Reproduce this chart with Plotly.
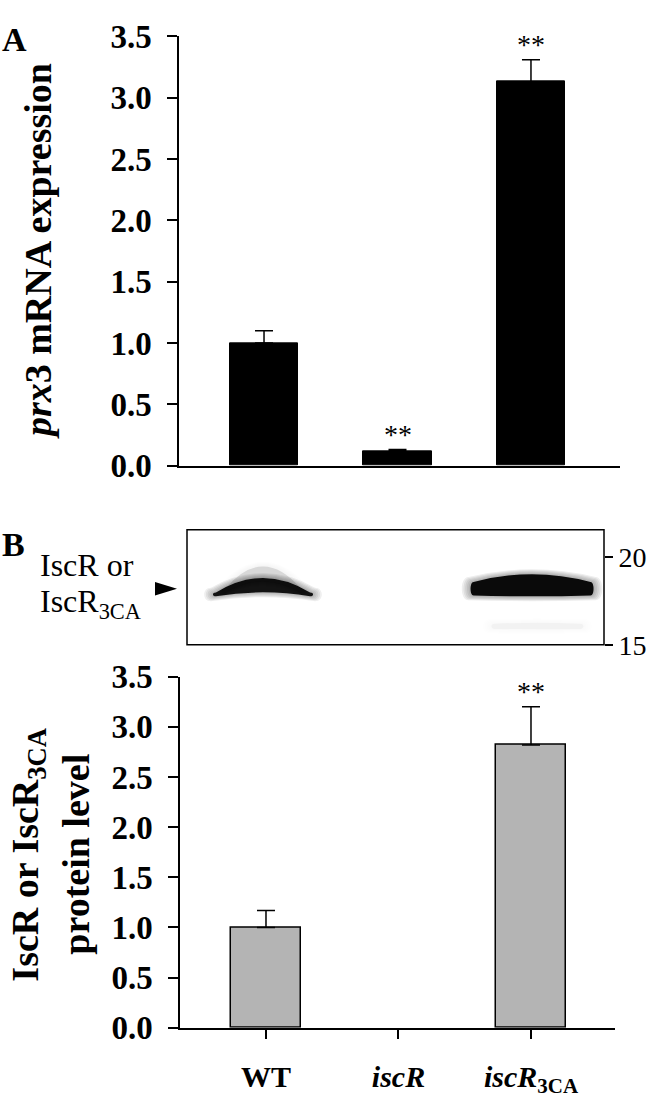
import plotly.graph_objects as go

# ---------------- data ----------------
categories = ["WT", "iscR", "iscR3CA"]
tick_text = ["WT", "<i>iscR</i>", "<i>iscR</i><sub>3CA</sub>"]
mrna_values = [1.00, 0.12, 3.13]
mrna_errors = [0.10, 0.012, 0.18]
mrna_sig = ["", "**", "**"]
protein_values = [1.00, 0.0, 2.82]
protein_errors = [0.17, 0.0, 0.38]
protein_sig = ["", "", "**"]
y_ticks = [0, 0.5, 1.0, 1.5, 2.0, 2.5, 3.0, 3.5]
blot_ticks = [15, 20]
# western blot bands (kDa scale): lane, half width, top edge end/mid, bottom edge end/mid, darkness
band_lane = [0, 0, 2, 2.04]
band_halfwidth = [0.35, 0.28, 0.435, 0.32]
band_top_end = [17.97, 18.20, 18.57, 16.20]
band_top_mid = [18.80, 19.45, 19.01, 16.25]
band_bot_end = [17.75, 17.95, 17.80, 15.90]
band_bot_mid = [17.98, 18.60, 17.75, 15.88]
band_alpha = [0.95, 0.12, 1.0, 0.03]

W, H = 650, 1100
def px(x):
    return x / W
def py(y):
    return 1 - y / H

FONT = "Liberation Serif"
xs = list(range(len(categories)))

fig = go.Figure()

# Panel A bars
fig.add_trace(go.Bar(
    x=xs, y=mrna_values, width=0.51, marker=dict(color="black", line=dict(color="black", width=1)),
    error_y=dict(type="data", symmetric=False, array=mrna_errors, arrayminus=[0]*3,
                 color="black", thickness=1.5, width=9),
    xaxis="x", yaxis="y", showlegend=False))

# Panel B bars (nothing drawn where no protein was detected)
shown = [v > 0 for v in protein_values]
fig.add_trace(go.Bar(
    x=[x for x, s in zip(xs, shown) if s],
    y=[v for v, s in zip(protein_values, shown) if s], width=0.53,
    marker=dict(color="#b4b4b4", line=dict(color="black", width=1.5)),
    error_y=dict(type="data", symmetric=False,
                 array=[e for e, s in zip(protein_errors, shown) if s],
                 arrayminus=[0 for s in shown if s],
                 color="black", thickness=1.5, width=9),
    xaxis="x2", yaxis="y2", showlegend=False))

# invisible trace on blot axes so they render
fig.add_trace(go.Scatter(x=[band_lane[0]], y=[band_top_end[0]], mode="markers",
                         marker=dict(opacity=0), xaxis="x3", yaxis="y3",
                         showlegend=False, hoverinfo="skip"))

axis_common = dict(showline=True, linecolor="black", linewidth=1.5, showgrid=False, zeroline=False)

fig.update_layout(
    width=W, height=H, margin=dict(l=0, r=0, t=0, b=0),
    paper_bgcolor="white", plot_bgcolor="white", bargap=0,
    xaxis=dict(domain=[px(179), px(620)], range=[-0.637, 2.667], anchor="y",
               tickvals=xs, showticklabels=False, ticks="", **axis_common),
    yaxis=dict(domain=[py(464), py(20)], range=[0, 3.5], anchor="x",
               tickvals=y_ticks, tickformat=".1f", ticks="outside", ticklen=10, tickwidth=1.5,
               tickcolor="black", ticklabelstandoff=9,
               tickfont=dict(family=FONT, size=33, color="black", weight="bold"), **axis_common),
    xaxis2=dict(domain=[px(180), px(615)], range=[-0.649, 2.634], anchor="y2",
                tickvals=xs, ticktext=tick_text, ticks="outside", ticklen=9, tickwidth=1.5,
                tickcolor="black", ticklabelstandoff=12,
                tickfont=dict(family=FONT, size=30, color="black", weight="bold"), **axis_common),
    yaxis2=dict(domain=[py(1045), py(682)], range=[0, 3.5], anchor="x2",
                tickvals=y_ticks, tickformat=".1f", ticks="outside", ticklen=10, tickwidth=1.5,
                tickcolor="black", ticklabelstandoff=9,
                tickfont=dict(family=FONT, size=33, color="black", weight="bold"), **axis_common),
    xaxis3=dict(domain=[px(187), px(604)], range=[-0.565, 2.535], anchor="y3", visible=False),
    yaxis3=dict(domain=[py(649), py(530)], range=[15, 21.54], anchor="x3", side="right",
                tickvals=blot_ticks, ticks="outside", ticklen=8, tickwidth=1.5, tickcolor="black",
                showline=False, showgrid=False, zeroline=False, ticklabelstandoff=0,
                tickfont=dict(family=FONT, size=28, color="black")),
)

shapes = []
# blot frame
shapes.append(dict(type="rect", xref="x3 domain", yref="y3 domain", x0=0, x1=1, y0=0, y1=1,
                   line=dict(color="black", width=1.5), fillcolor="rgba(0,0,0,0)", layer="above"))

XU = 1 / 134.5   # lane units per pixel
YU = 1 / 18.2    # kDa units per pixel

def band_path(x, hw, te, tm, be, bm, grow_px):
    dx, dy = grow_px * XU, grow_px * YU
    hw = hw + dx
    te, tm, be, bm = te + dy, tm + dy, be - dy, bm - dy
    e = 4 * XU + dx
    return (f"M {x-hw},{te} Q {x},{2*tm-te} {x+hw},{te} "
            f"C {x+hw+e},{te} {x+hw+e},{be} {x+hw},{be} "
            f"Q {x},{2*bm-be} {x-hw},{be} "
            f"C {x-hw-e},{be} {x-hw-e},{te} {x-hw},{te} Z")

for lane, hw, te, tm, be, bm, a in zip(band_lane, band_halfwidth, band_top_end, band_top_mid,
                                        band_bot_end, band_bot_mid, band_alpha):
    # soft halo made of stacked translucent layers, then the core
    for g in [5, 4, 3, 2, 1]:
        shapes.append(dict(type="path", xref="x3", yref="y3",
                           path=band_path(lane, hw, te, tm, be, bm, g),
                           fillcolor="#111111", opacity=a * 0.07, line=dict(width=0), layer="below"))
    shapes.append(dict(type="path", xref="x3", yref="y3",
                       path=band_path(lane, hw, te, tm, be, bm, 0),
                       fillcolor="#0a0a0a", opacity=a, line=dict(width=0), layer="below"))

# arrowhead pointing to the band
shapes.append(dict(type="path", xref="paper", yref="paper",
                   path=f"M {px(155)},{py(584)} L {px(177)},{py(591)} L {px(155)},{py(598)} Z",
                   fillcolor="black", line=dict(width=0)))
fig.update_layout(shapes=shapes)

ann = []
# significance stars
for i, (v, e, s) in enumerate(zip(mrna_values, mrna_errors, mrna_sig)):
    if s:
        ann.append(dict(x=i, y=v + e, xref="x", yref="y", text=s, showarrow=False,
                        yanchor="bottom", yshift=-2, font=dict(family=FONT, size=28, color="black")))
for i, (v, e, s) in enumerate(zip(protein_values, protein_errors, protein_sig)):
    if s:
        ann.append(dict(x=i, y=v + e, xref="x2", yref="y2", text=s, showarrow=False,
                        yanchor="bottom", yshift=-2, font=dict(family=FONT, size=28, color="black")))

# axis titles
ann.append(dict(x=px(38), y=py(242), xref="paper", yref="paper", text="<b><i>prx</i>3 mRNA expression</b>",
                textangle=-90, showarrow=False, xanchor="center", yanchor="middle",
                font=dict(family=FONT, size=38, color="black")))
ann.append(dict(x=px(28), y=py(866), xref="paper", yref="paper", text="<b>IscR or IscR<sub>3CA</sub></b>",
                textangle=-90, showarrow=False, xanchor="center", yanchor="middle",
                font=dict(family=FONT, size=38, color="black")))
ann.append(dict(x=px(76), y=py(866), xref="paper", yref="paper", text="<b>protein level</b>",
                textangle=-90, showarrow=False, xanchor="center", yanchor="middle",
                font=dict(family=FONT, size=38, color="black")))

# panel letters
ann.append(dict(x=px(0), y=py(2), xref="paper", yref="paper", text="<b>A</b>", showarrow=False,
                xanchor="left", yanchor="top", font=dict(family=FONT, size=34, color="black")))
ann.append(dict(x=px(0), y=py(524), xref="paper", yref="paper", text="<b>B</b>", showarrow=False,
                xanchor="left", yanchor="top", font=dict(family=FONT, size=34, color="black")))

# blot labels
ann.append(dict(x=px(38), y=py(567), xref="paper", yref="paper", text="IscR or", showarrow=False,
                xanchor="left", yanchor="middle", font=dict(family=FONT, size=32, color="black")))
ann.append(dict(x=px(38), y=py(606), xref="paper", yref="paper", text="IscR<sub>3CA</sub>", showarrow=False,
                xanchor="left", yanchor="middle", font=dict(family=FONT, size=32, color="black")))

fig.update_layout(annotations=ann)
fig.write_html("out.html", config={"displayModeBar": False},
               post_script="document.body.style.margin='0px';document.body.style.overflow='hidden';")
